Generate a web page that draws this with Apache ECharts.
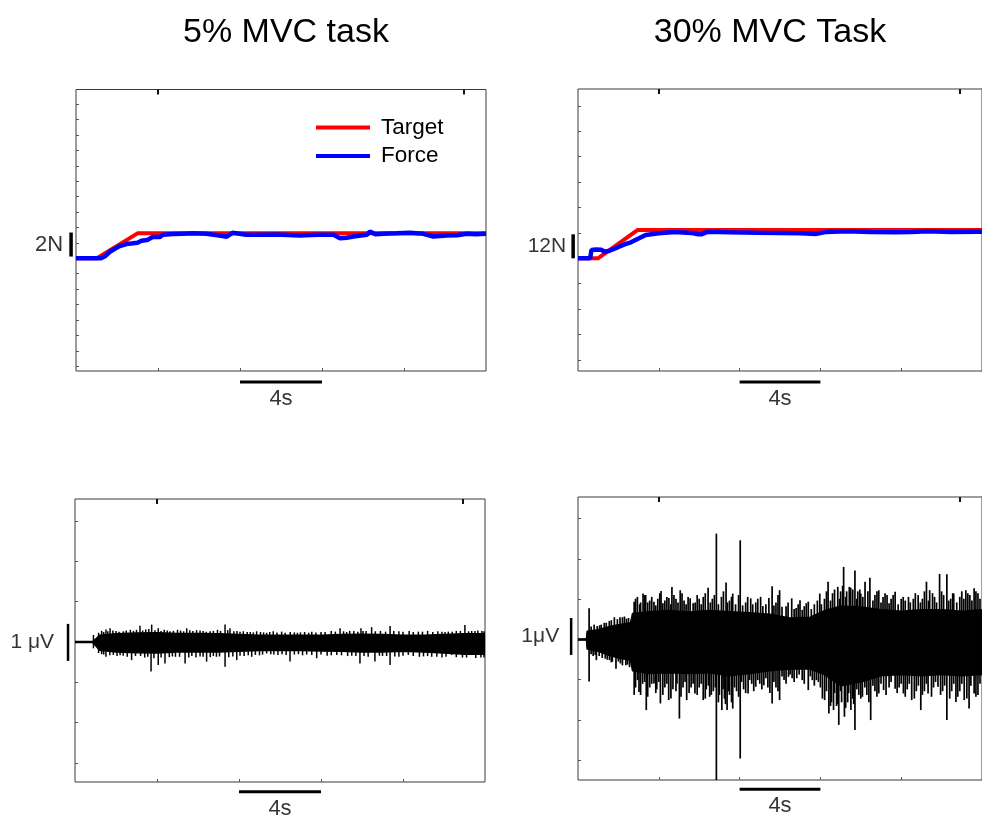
<!DOCTYPE html>
<html>
<head>
<meta charset="UTF-8">
<title>MVC task traces</title>
<script src="https://cdn.jsdelivr.net/npm/echarts@6/dist/echarts.min.js"></script>
<style>
  body { margin: 0; background: #fff; }
  #chart { width: 982px; height: 818px; }
</style>
</head>
<body>
<div id="chart"></div>
<script>
// ---- force traces: [time s, force N above baseline] ----
var target5 = [[0, 0], [1.0, 0], [3.0, 2.08], [20, 2.08]];
var force5 = [[0, 0], [1.2, 0], [1.4, 0.15], [1.65, 0.55], [1.9, 0.8], [2.13, 1.02], [2.46, 1.19], [2.78, 1.25],
  [3.0, 1.3], [3.19, 1.46], [3.47, 1.52], [3.76, 1.8], [4.08, 1.77], [4.24, 1.97], [4.73, 2.02], [5.2, 2.05],
  [5.71, 2.08], [6.36, 2.04], [6.8, 1.95], [7.15, 1.86], [7.35, 1.8], [7.64, 2.13], [8.3, 1.97], [9.0, 1.97],
  [9.8, 1.98], [10.9, 1.9], [11.8, 1.96], [12.55, 1.96], [12.88, 1.68], [13.2, 1.72], [13.53, 1.82], [14.18, 1.96],
  [14.34, 2.23], [14.6, 2.0], [15.0, 2.04], [15.64, 2.08], [16.29, 2.13], [16.94, 2.04], [17.43, 1.82], [18.08, 1.9],
  [18.6, 1.93], [19.06, 2.04], [19.5, 2.0], [20, 2.04]];

var target30 = [[0, 0], [0.99, 0], [2.94, 14.1], [20, 14.1]];
var force30 = [[0, 0], [0.6, 0], [0.67, 4.2], [0.9, 4.4], [1.15, 4.3], [1.32, 3.3], [1.56, 3.8], [1.97, 5.5],
  [2.37, 7.2], [2.62, 8], [3.02, 10], [3.35, 11.7], [4.0, 12.5], [4.8, 13.1], [5.6, 12.7], [5.95, 12.0],
  [6.1, 12.0], [6.44, 13.3], [7.5, 13.0], [8.9, 12.8], [10.0, 12.7], [11.0, 12.5], [11.8, 12.2], [12.3, 13.2],
  [13.3, 13.5], [14.5, 13.2], [15.7, 13.0], [16.5, 13.1], [17.3, 13.5], [18.5, 13.2], [19.7, 13.3], [20, 13.3]];

// ---- EMG (uV): dense core band edges, then single spikes [time, peak] ----
var emgUp5 = [[0, 0], [0.85, 0], [0.9, 0.05], [1.2, 0.18], [2, 0.22], [3, 0.24], [4, 0.25], [5, 0.23], [6, 0.23],
  [7, 0.22], [8, 0.2], [9, 0.18], [10, 0.18], [11, 0.18], [12, 0.18], [13, 0.2], [14, 0.21], [15, 0.2], [16, 0.18],
  [17, 0.18], [18, 0.2], [19, 0.22], [20, 0.22]];
var emgLow5 = [[0, 0], [0.85, 0], [0.9, -0.05], [1.2, -0.22], [2, -0.27], [3, -0.29], [4, -0.3], [5, -0.27], [6, -0.27],
  [7, -0.27], [8, -0.25], [9, -0.23], [10, -0.23], [11, -0.23], [12, -0.24], [13, -0.25], [14, -0.27], [15, -0.27],
  [16, -0.25], [17, -0.27], [18, -0.3], [19, -0.33], [20, -0.33]];
var emgSpikes5 = [[0.9, 0.19], [1.3, 0.3], [1.51, 0.34], [1.71, 0.37], [2.0, 0.3], [2.36, 0.29], [2.7, 0.33],
  [3.17, 0.44], [3.45, 0.34], [3.74, 0.47], [4.06, 0.37], [4.35, 0.33], [4.63, 0.29], [5.0, 0.33], [5.45, 0.37],
  [5.93, 0.32], [6.25, 0.3], [6.59, 0.29], [6.95, 0.33], [7.32, 0.47], [7.56, 0.37], [7.9, 0.3], [8.21, 0.29],
  [8.55, 0.27], [8.86, 0.29], [9.2, 0.26], [9.67, 0.29], [10.08, 0.28], [10.5, 0.27], [11.0, 0.26], [11.55, 0.28],
  [12.0, 0.27], [12.5, 0.3], [12.93, 0.37], [13.4, 0.3], [13.95, 0.37], [14.2, 0.3], [14.47, 0.4], [14.9, 0.3],
  [15.37, 0.43], [15.8, 0.29], [16.3, 0.3], [16.75, 0.28], [17.2, 0.3], [17.7, 0.29], [18.21, 0.28], [18.6, 0.3],
  [19.02, 0.46], [19.51, 0.3], [19.85, 0.3],
  [1.15, 0.25], [1.4, 0.27], [1.6, 0.29], [1.85, 0.31], [2.15, 0.28], [2.5, 0.31], [2.85, 0.3], [3.0, 0.33], [3.3, 0.31],
  [3.6, 0.35], [3.9, 0.32], [4.2, 0.3], [4.5, 0.31], [4.8, 0.3], [5.15, 0.31], [5.3, 0.29], [5.6, 0.32], [5.75, 0.3],
  [6.1, 0.31], [6.4, 0.28], [6.75, 0.3], [7.1, 0.3], [7.45, 0.32], [7.75, 0.29], [8.05, 0.28], [8.4, 0.27], [8.7, 0.26],
  [9.05, 0.27], [9.35, 0.25], [9.5, 0.27], [9.85, 0.26], [10.25, 0.25], [10.7, 0.26], [10.85, 0.25], [11.2, 0.27],
  [11.4, 0.25], [11.75, 0.26], [12.2, 0.27], [12.7, 0.28], [13.1, 0.29], [13.25, 0.27], [13.6, 0.3], [13.8, 0.28],
  [14.05, 0.3], [14.65, 0.29], [15.15, 0.28], [15.55, 0.3], [16.0, 0.28], [16.5, 0.27], [16.95, 0.28], [17.45, 0.27],
  [17.9, 0.28], [18.05, 0.27], [18.4, 0.28], [18.8, 0.3], [19.2, 0.29], [19.35, 0.3], [19.65, 0.31], [19.95, 0.29],
  [0.9, -0.17], [1.3, -0.33], [1.51, -0.4], [1.87, -0.35], [2.2, -0.36], [2.76, -0.49], [3.2, -0.38], [3.71, -0.8],
  [4.06, -0.62], [4.39, -0.58], [4.9, -0.4], [5.37, -0.58], [5.9, -0.42], [6.42, -0.53], [6.9, -0.4], [7.32, -0.67],
  [7.89, -0.49], [8.25, -0.38], [8.62, -0.4], [9.0, -0.36], [9.35, -0.31], [9.9, -0.35], [10.49, -0.53], [11.1, -0.36],
  [11.79, -0.44], [12.3, -0.37], [12.77, -0.35], [13.3, -0.38], [13.9, -0.58], [14.3, -0.4], [14.63, -0.53], [15.0, -0.38],
  [15.37, -0.62], [15.8, -0.4], [16.26, -0.35], [16.8, -0.4], [17.4, -0.4], [17.9, -0.42], [18.37, -0.35], [18.9, -0.42],
  [19.35, -0.35], [19.8, -0.42],
  [1.15, -0.3], [1.4, -0.34], [1.7, -0.36], [2.05, -0.38], [2.35, -0.37], [2.55, -0.4], [2.95, -0.38], [3.4, -0.42],
  [3.55, -0.4], [3.85, -0.44], [4.2, -0.42], [4.6, -0.41], [4.75, -0.39], [5.1, -0.4], [5.55, -0.42], [5.7, -0.38],
  [6.1, -0.39], [6.25, -0.4], [6.6, -0.41], [6.75, -0.38], [7.05, -0.39], [7.5, -0.41], [7.7, -0.39], [8.05, -0.37],
  [8.45, -0.36], [8.8, -0.35], [9.15, -0.34], [9.55, -0.33], [9.7, -0.34], [10.1, -0.33], [10.3, -0.35], [10.7, -0.34],
  [10.9, -0.33], [11.3, -0.34], [11.55, -0.35], [12.0, -0.34], [12.5, -0.36], [13.0, -0.36], [13.5, -0.37], [13.7, -0.38],
  [14.1, -0.38], [14.85, -0.37], [15.2, -0.38], [15.6, -0.39], [16.0, -0.37], [16.5, -0.38], [17.0, -0.39], [17.2, -0.38],
  [17.65, -0.4], [18.1, -0.4], [18.6, -0.41], [19.1, -0.42], [19.55, -0.43], [19.95, -0.42]];

var emgUp30 = [[0, 0], [0.42, 0], [0.45, 0.22], [1.0, 0.26], [1.5, 0.34], [2.0, 0.4], [2.6, 0.45], [2.7, 0.7], [3.5, 0.75],
  [4.5, 0.78], [5.5, 0.74], [6.5, 0.78], [7.5, 0.75], [8.5, 0.72], [9.5, 0.68], [10.5, 0.58], [11.5, 0.6], [12.2, 0.78],
  [13.0, 0.9], [14.0, 0.88], [15.0, 0.8], [16.0, 0.76], [17.0, 0.8], [18.0, 0.8], [19.0, 0.76], [20, 0.8]];
var emgLow30 = [[0, 0], [0.42, 0], [0.45, -0.26], [1.0, -0.32], [1.5, -0.42], [2.0, -0.5], [2.6, -0.56], [2.7, -0.85],
  [3.5, -0.92], [4.5, -0.9], [5.5, -0.92], [6.5, -0.9], [7.5, -0.98], [8.5, -0.92], [9.5, -0.85], [10.5, -0.8],
  [11.5, -0.8], [12.2, -0.95], [13.0, -1.25], [14.0, -1.15], [15.0, -0.98], [16.0, -0.95], [17.0, -0.98], [18.0, -0.95],
  [19.0, -0.98], [20, -0.95]];
var emgSpikes30 = [[0.55, 0.84], [0.8, 0.4], [1.07, 0.38], [1.3, 0.45], [1.55, 0.5], [1.8, 0.6], [2.08, 0.6], [2.3, 0.62],
  [2.5, 0.58], [2.78, 1.02], [2.94, 1.15], [3.1, 1.0], [3.22, 1.24], [3.35, 1.2], [3.55, 1.05], [3.76, 1.02], [3.95, 1.1],
  [4.11, 1.31], [4.3, 1.05], [4.5, 1.12], [4.65, 1.42], [4.85, 1.1], [5.06, 1.33], [5.25, 1.05], [5.55, 1.11], [5.8, 1.0],
  [6.0, 1.1], [6.2, 1.15], [6.44, 1.4], [6.65, 1.1], [6.85, 2.86], [7.1, 1.15], [7.33, 1.54], [7.5, 1.05], [7.66, 1.24],
  [8.03, 2.68], [8.3, 1.0], [8.55, 1.11], [8.8, 1.0], [9.04, 1.15], [9.3, 0.95], [9.61, 1.44], [9.8, 1.0], [9.98, 1.33],
  [10.3, 0.9], [10.58, 1.11], [10.8, 0.85], [10.99, 1.06], [11.2, 0.9], [11.4, 1.02], [11.7, 0.95], [11.97, 1.24],
  [12.2, 1.1], [12.38, 1.56], [12.6, 1.25], [12.86, 1.42], [13.0, 1.3], [13.15, 1.96], [13.3, 1.3], [13.43, 1.42],
  [13.6, 1.35], [13.71, 1.86], [13.85, 1.3], [14.0, 1.24], [14.21, 1.56], [14.45, 1.67], [14.7, 1.2], [14.89, 1.33],
  [15.1, 1.15], [15.3, 1.2], [15.5, 1.1], [15.7, 1.29], [16.0, 1.1], [16.2, 1.05], [16.36, 1.15], [16.6, 1.1],
  [16.84, 1.2], [17.05, 1.1], [17.25, 1.56], [17.41, 1.33], [17.65, 1.15], [17.9, 1.77], [18.1, 1.2], [18.26, 1.76],
  [18.45, 1.1], [18.6, 1.24], [18.9, 1.15], [19.2, 1.33], [19.4, 1.2], [19.61, 1.38], [19.8, 1.25],
  [0.65, 0.35], [0.95, 0.36], [1.15, 0.4], [1.4, 0.45], [1.65, 0.52], [1.95, 0.55], [2.2, 0.6], [2.4, 0.56],
  [2.85, 1.1], [3.05, 0.95], [3.3, 1.2], [3.45, 1.0], [3.65, 1.15], [3.85, 0.92], [4.05, 1.25], [4.2, 0.98], [4.4, 1.15],
  [4.6, 0.95], [4.75, 1.2], [4.95, 1.0], [5.15, 1.25], [5.35, 0.95], [5.45, 1.15], [5.7, 0.98], [5.9, 1.2], [6.1, 0.95],
  [6.3, 1.25], [6.55, 1.0], [6.75, 1.2], [6.95, 0.95], [7.2, 1.3], [7.4, 1.0], [7.6, 1.15], [7.8, 0.95], [7.95, 1.2],
  [8.15, 0.92], [8.4, 1.15], [8.65, 0.95], [8.9, 1.1], [9.15, 0.9], [9.45, 1.12], [9.7, 0.92], [9.9, 1.2], [10.1, 0.88],
  [10.4, 1.0], [10.7, 0.82], [10.9, 0.95], [11.1, 0.8], [11.3, 0.98], [11.55, 0.82], [11.85, 1.05], [12.05, 0.95],
  [12.3, 1.3], [12.5, 1.05], [12.7, 1.35], [12.95, 1.1], [13.1, 1.45], [13.25, 1.15], [13.5, 1.4], [13.8, 1.1],
  [13.95, 1.35], [14.1, 1.15], [14.35, 1.3], [14.6, 1.05], [14.8, 1.3], [15.0, 1.0], [15.2, 1.25], [15.4, 0.98],
  [15.6, 1.2], [15.85, 0.95], [16.1, 1.15], [16.45, 1.0], [16.7, 1.25], [16.95, 1.0], [17.15, 1.3], [17.35, 1.05],
  [17.55, 1.25], [17.75, 1.0], [18.0, 1.3], [18.35, 1.05], [18.55, 1.25], [18.75, 1.0], [19.0, 1.3], [19.1, 1.1],
  [19.3, 1.25], [19.5, 1.05], [19.7, 1.3], [19.9, 1.1],
  [0.55, -1.14], [0.75, -0.45], [0.91, -0.56], [1.2, -0.5], [1.56, -0.56], [1.7, -0.6], [1.88, -0.79], [2.1, -0.65],
  [2.37, -0.7], [2.55, -0.75], [2.78, -1.5], [3.02, -1.42], [3.2, -1.2], [3.38, -1.91], [3.55, -1.3], [3.76, -1.19],
  [3.9, -1.35], [4.08, -1.73], [4.3, -1.3], [4.49, -1.64], [4.7, -1.35], [4.85, -1.4], [5.02, -2.14], [5.2, -1.3],
  [5.38, -1.64], [5.6, -1.3], [5.79, -1.46], [6.0, -1.3], [6.2, -1.64], [6.35, -1.35], [6.52, -1.55], [6.7, -1.4],
  [6.85, -3.8], [7.0, -1.5], [7.12, -1.91], [7.25, -1.6], [7.38, -1.91], [7.5, -1.5], [7.66, -1.87], [7.85, -1.4],
  [8.03, -3.22], [8.2, -1.35], [8.42, -1.46], [8.6, -1.2], [8.8, -1.28], [9.0, -1.2], [9.2, -1.24], [9.4, -1.3],
  [9.61, -1.73], [9.8, -1.3], [9.98, -1.64], [10.2, -1.1], [10.42, -1.01], [10.6, -1.05], [10.83, -1.05], [11.1, -1.1],
  [11.4, -1.37], [11.6, -1.1], [11.8, -1.1], [12.0, -1.3], [12.21, -1.64], [12.42, -2.0], [12.55, -1.7], [12.65, -1.91],
  [12.8, -1.8], [12.91, -2.31], [13.05, -1.7], [13.19, -2.09], [13.35, -1.7], [13.51, -1.91], [13.6, -1.6], [13.71, -2.45],
  [13.9, -1.5], [14.08, -1.55], [14.3, -1.5], [14.49, -2.18], [14.7, -1.4], [14.89, -1.46], [15.13, -1.37], [15.4, -1.3],
  [15.7, -1.33], [15.9, -1.3], [16.11, -1.46], [16.3, -1.35], [16.52, -1.64], [16.75, -1.4], [16.97, -1.91], [17.15, -1.4],
  [17.33, -1.46], [17.6, -1.3], [17.82, -1.28], [18.05, -1.4], [18.26, -2.18], [18.5, -1.4], [18.71, -1.69], [18.9, -1.4],
  [19.12, -1.64], [19.36, -1.87], [19.61, -1.46], [19.8, -1.5],
  [0.65, -0.4], [0.85, -0.42], [1.05, -0.45], [1.35, -0.52], [1.45, -0.55], [1.65, -0.62], [2.0, -0.6], [2.2, -0.7],
  [2.45, -0.68], [2.85, -1.3], [2.95, -1.1], [3.1, -1.5], [3.3, -1.15], [3.45, -1.55], [3.65, -1.2], [3.85, -1.45],
  [4.0, -1.15], [4.2, -1.5], [4.4, -1.2], [4.6, -1.6], [4.9, -1.2], [5.1, -1.55], [5.3, -1.15], [5.5, -1.45], [5.7, -1.2],
  [5.9, -1.5], [6.1, -1.2], [6.3, -1.6], [6.45, -1.25], [6.6, -1.5], [6.8, -1.3], [6.95, -1.7], [7.18, -1.35],
  [7.3, -1.75], [7.45, -1.4], [7.6, -1.7], [7.75, -1.3], [7.95, -1.55], [8.1, -1.15], [8.3, -1.45], [8.5, -1.1],
  [8.7, -1.4], [8.9, -1.1], [9.1, -1.35], [9.3, -1.05], [9.5, -1.45], [9.7, -1.15], [9.9, -1.4], [10.1, -1.0],
  [10.3, -1.2], [10.5, -0.95], [10.7, -1.15], [10.95, -0.95], [11.2, -1.2], [11.5, -1.0], [11.7, -1.25], [11.9, -1.15],
  [12.1, -1.6], [12.3, -1.4], [12.5, -1.8], [12.7, -1.45], [12.85, -1.75], [13.0, -1.4], [13.25, -1.85], [13.4, -1.45],
  [13.65, -1.75], [13.8, -1.35], [14.0, -1.6], [14.2, -1.3], [14.4, -1.7], [14.6, -1.25], [14.8, -1.55], [15.0, -1.2],
  [15.25, -1.5], [15.5, -1.15], [15.8, -1.45], [16.0, -1.2], [16.2, -1.55], [16.4, -1.2], [16.65, -1.6], [16.85, -1.25],
  [17.05, -1.5], [17.25, -1.2], [17.5, -1.55], [17.7, -1.15], [17.95, -1.5], [18.15, -1.25], [18.4, -1.6], [18.6, -1.2],
  [18.8, -1.55], [19.0, -1.2], [19.25, -1.6], [19.45, -1.25], [19.7, -1.55], [19.9, -1.2]];

// ---- axis ticks ----
var xTicksBottom = [4, 8, 12, 16];
var xTicksTop = [4, 18.9];
var yTicks5 = [12.83, 11.55, 10.26, 8.98, 7.7, 6.42, 5.13, 3.85, 2.57, 1.28, 0, -1.28, -2.57, -3.85, -5.13, -6.42, -7.7, -8.98];
var yTicks30 = [76.2, 63.5, 50.8, 38.1, 25.4, 12.7, 0, -12.7, -25.4, -38.1, -50.8];
var emgTicks = [3.27, 2.18, 1.09, 0, -1.09, -2.18, -3.27];
var yRanges = [[-9.38, 14.06], [-56.35, 84.65], [-3.784, 3.865], [-3.8, 3.85]];
var yTickSets = [yTicks5, yTicks30, emgTicks, emgTicks];

var FONT = '"Liberation Sans", Arial, sans-serif';

var grids = [
  { left: 76, top: 89.5, width: 410, height: 281.5 },
  { left: 578, top: 89, width: 410, height: 282 },
  { left: 75, top: 499, width: 410, height: 283 },
  { left: 578, top: 497, width: 410, height: 283 }
].map(function (g) {
  return Object.assign({ show: true, borderColor: '#3a3a3a', borderWidth: 1, backgroundColor: '#fff' }, g);
});

var xAxes = [], yAxes = [];
for (var i = 0; i < 4; i++) {
  xAxes.push({
    type: 'value', gridIndex: i, position: 'bottom', min: 0, max: 20,
    axisLine: { show: false, onZero: false }, splitLine: { show: false }, axisLabel: { show: false },
    axisTick: { show: true, inside: true, length: 3, customValues: xTicksBottom, lineStyle: { color: '#555' } }
  });
}
for (var j = 0; j < 4; j++) {
  xAxes.push({
    type: 'value', gridIndex: j, position: 'top', min: 0, max: 20,
    axisLine: { show: false, onZero: false }, splitLine: { show: false }, axisLabel: { show: false },
    axisTick: { show: true, inside: true, length: 5, customValues: xTicksTop, lineStyle: { color: '#111', width: 2 } }
  });
}
for (var k = 0; k < 4; k++) {
  yAxes.push({
    type: 'value', gridIndex: k, min: yRanges[k][0], max: yRanges[k][1],
    axisLine: { show: false, onZero: false }, splitLine: { show: false }, axisLabel: { show: false },
    axisTick: { show: true, inside: true, length: 3, customValues: yTickSets[k], lineStyle: { color: '#555' } }
  });
}

function trace(g, name, data, color, width) {
  return {
    name: name, type: 'line', xAxisIndex: g, yAxisIndex: g, data: data,
    symbol: 'none', lineStyle: { color: color, width: width }, itemStyle: { color: color }, z: 3
  };
}
function band(g, data) {
  return {
    type: 'line', xAxisIndex: g, yAxisIndex: g, data: data, symbol: 'none', silent: true,
    lineStyle: { color: '#000', width: 1.5 }, areaStyle: { color: '#000', opacity: 1 }, z: 2
  };
}
function zeroLine(g) {
  return {
    type: 'line', xAxisIndex: g, yAxisIndex: g, data: [[0, 0], [20, 0]], symbol: 'none', silent: true,
    lineStyle: { color: '#000', width: 2.5 }, z: 2
  };
}
function spikes(g, data, w) {
  return {
    type: 'custom', xAxisIndex: g, yAxisIndex: g, data: data, silent: true, z: 2,
    encode: { x: 0, y: 1 },
    renderItem: function (params, api) {
      var p0 = api.coord([api.value(0), 0]);
      var p1 = api.coord([api.value(0), api.value(1)]);
      return { type: 'line', shape: { x1: p0[0], y1: p0[1], x2: p1[0], y2: p1[1] },
        style: { stroke: '#000', lineWidth: w } };
    }
  };
}
// scale bar: one segment [x1, y1, x2, y2] in the panel's own units
function bar(g, seg, width) {
  return {
    type: 'custom', xAxisIndex: g, yAxisIndex: g, data: [seg], silent: true, clip: false, z: 5,
    encode: { x: [0, 2], y: [1, 3] },
    renderItem: function (params, api) {
      var a = api.coord([api.value(0), api.value(1)]);
      var b = api.coord([api.value(2), api.value(3)]);
      return { type: 'line', shape: { x1: a[0], y1: a[1], x2: b[0], y2: b[1] },
        style: { stroke: '#000', lineWidth: width } };
    }
  };
}
function barLabel(g, pt, text, pos, dist, size) {
  return {
    type: 'scatter', xAxisIndex: g, yAxisIndex: g, data: [pt], symbolSize: 0, clip: false, silent: true,
    label: { show: true, position: pos, distance: dist, formatter: text, color: '#000', fontSize: size, fontFamily: FONT }
  };
}

var series = [
  trace(0, 'Target', target5, '#ff0000', 4),
  trace(0, 'Force', force5, '#0000ff', 4.5),
  trace(1, 'Target', target30, '#ff0000', 4),
  trace(1, 'Force', force30, '#0000ff', 4.5),
  band(2, emgUp5), band(2, emgLow5), zeroLine(2), spikes(2, emgSpikes5, 1.5),
  band(3, emgUp30), band(3, emgLow30), zeroLine(3), spikes(3, emgSpikes30, 1.7),
  // time scale bars
  bar(0, [8, -10.3, 12, -10.3], 3), barLabel(0, [10, -10.3], '4s', 'bottom', 6, 22),
  bar(1, [8, -61.9, 12, -61.9], 3), barLabel(1, [10, -61.9], '4s', 'bottom', 6, 22),
  bar(2, [8, -4.05, 12, -4.05], 3), barLabel(2, [10, -4.05], '4s', 'bottom', 6, 22),
  bar(3, [8, -4.05, 12, -4.05], 3), barLabel(3, [10, -4.05], '4s', 'bottom', 6, 22),
  // amplitude scale bars
  bar(0, [-0.24, 0.15, -0.24, 2.15], 3.5), barLabel(0, [-0.24, 1.15], '2N', 'left', 8, 22),
  bar(1, [-0.24, 0, -0.24, 12], 3.5), barLabel(1, [-0.24, 6], '12N', 'left', 7, 21),
  bar(2, [-0.34, -0.51, -0.34, 0.49], 2.5), barLabel(2, [-0.34, 0], '1 μV', 'left', 14, 21),
  bar(3, [-0.34, -0.42, -0.34, 0.58], 2.5), barLabel(3, [-0.34, 0.08], '1μV', 'left', 12, 21)
];

var chart = echarts.init(document.getElementById('chart'));
chart.setOption({
  animation: false,
  backgroundColor: '#fff',
  textStyle: { fontFamily: FONT },
  grid: grids,
  xAxis: xAxes,
  yAxis: yAxes,
  legend: {
    data: ['Target', 'Force'], orient: 'vertical', left: 316, top: 116, padding: 0,
    icon: 'rect', itemWidth: 54, itemHeight: 4, itemGap: 5.5, selectedMode: false,
    textStyle: { fontSize: 22.5, color: '#000', fontFamily: FONT, padding: [0, 0, 0, 6] }
  },
  graphic: [
    { type: 'text', x: 286, y: 33, style: { text: '5% MVC task', align: 'center', verticalAlign: 'middle', font: '34px ' + FONT, fill: '#000' } },
    { type: 'text', x: 770, y: 33, style: { text: '30% MVC Task', align: 'center', verticalAlign: 'middle', font: '34px ' + FONT, fill: '#000' } }
  ],
  series: series
});
</script>
</body>
</html>
